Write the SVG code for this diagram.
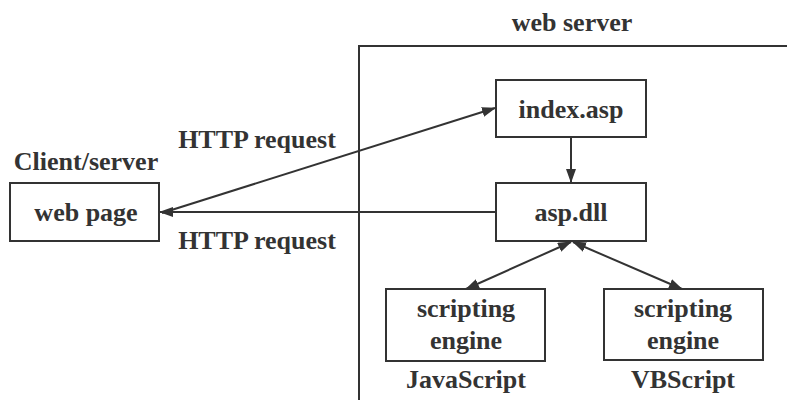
<svg xmlns="http://www.w3.org/2000/svg" width="787" height="400" viewBox="0 0 787 400">
<defs>
<style>
text{font-family:'Liberation Serif','Times New Roman',serif;font-weight:700;font-size:26px;fill:#333;text-anchor:middle}
.box{fill:#fff;stroke:#333;stroke-width:2}
.ln{stroke:#333;stroke-width:2;fill:none}
</style>
<marker id="ah" viewBox="0 0 14 10" refX="13" refY="5" markerWidth="14" markerHeight="10" markerUnits="userSpaceOnUse" orient="auto-start-reverse">
<path d="M0,0 L14,5 L0,10 z" fill="#333"/>
</marker>
</defs>
<rect width="787" height="400" fill="#fff"/>
<g id="server" font-family="Liberation Serif, serif">
<path class="ln" d="M359,400 V46 H787"/>
<text x="572" y="31">web server</text>
</g>
<g id="connectors" font-family="Liberation Serif, serif">
<line class="ln" x1="162" y1="213" x2="495" y2="108" marker-end="url(#ah)"/>
<line class="ln" x1="496" y1="212" x2="160" y2="212" marker-end="url(#ah)"/>
<line class="ln" x1="571" y1="137" x2="571" y2="182" marker-end="url(#ah)"/>
<line class="ln" x1="571" y1="242" x2="466" y2="289" marker-start="url(#ah)" marker-end="url(#ah)"/>
<line class="ln" x1="573" y1="242" x2="682" y2="289" marker-start="url(#ah)" marker-end="url(#ah)"/>
<text x="257" y="148">HTTP request</text>
<text x="257" y="249">HTTP request</text>
</g>
<g id="client" font-family="Liberation Serif, serif">
<text x="86" y="170">Client/server</text>
<rect class="box" x="10" y="183" width="149" height="58"/>
<text x="86" y="221">web page</text>
</g>
<g id="index" font-family="Liberation Serif, serif">
<rect class="box" x="496" y="80" width="150" height="57"/>
<text x="571" y="118">index.asp</text>
</g>
<g id="aspdll" font-family="Liberation Serif, serif">
<rect class="box" x="496" y="183" width="150" height="58"/>
<text x="571" y="221">asp.dll</text>
</g>
<g id="js" font-family="Liberation Serif, serif">
<rect class="box" x="386" y="289" width="159" height="72"/>
<text x="466" y="317">scripting</text>
<text x="466" y="349">engine</text>
<text x="466" y="388">JavaScript</text>
</g>
<g id="vbs" font-family="Liberation Serif, serif">
<rect class="box" x="604" y="289" width="159" height="71"/>
<text x="683" y="317">scripting</text>
<text x="683" y="349">engine</text>
<text x="683" y="388">VBScript</text>
</g>
</svg>
